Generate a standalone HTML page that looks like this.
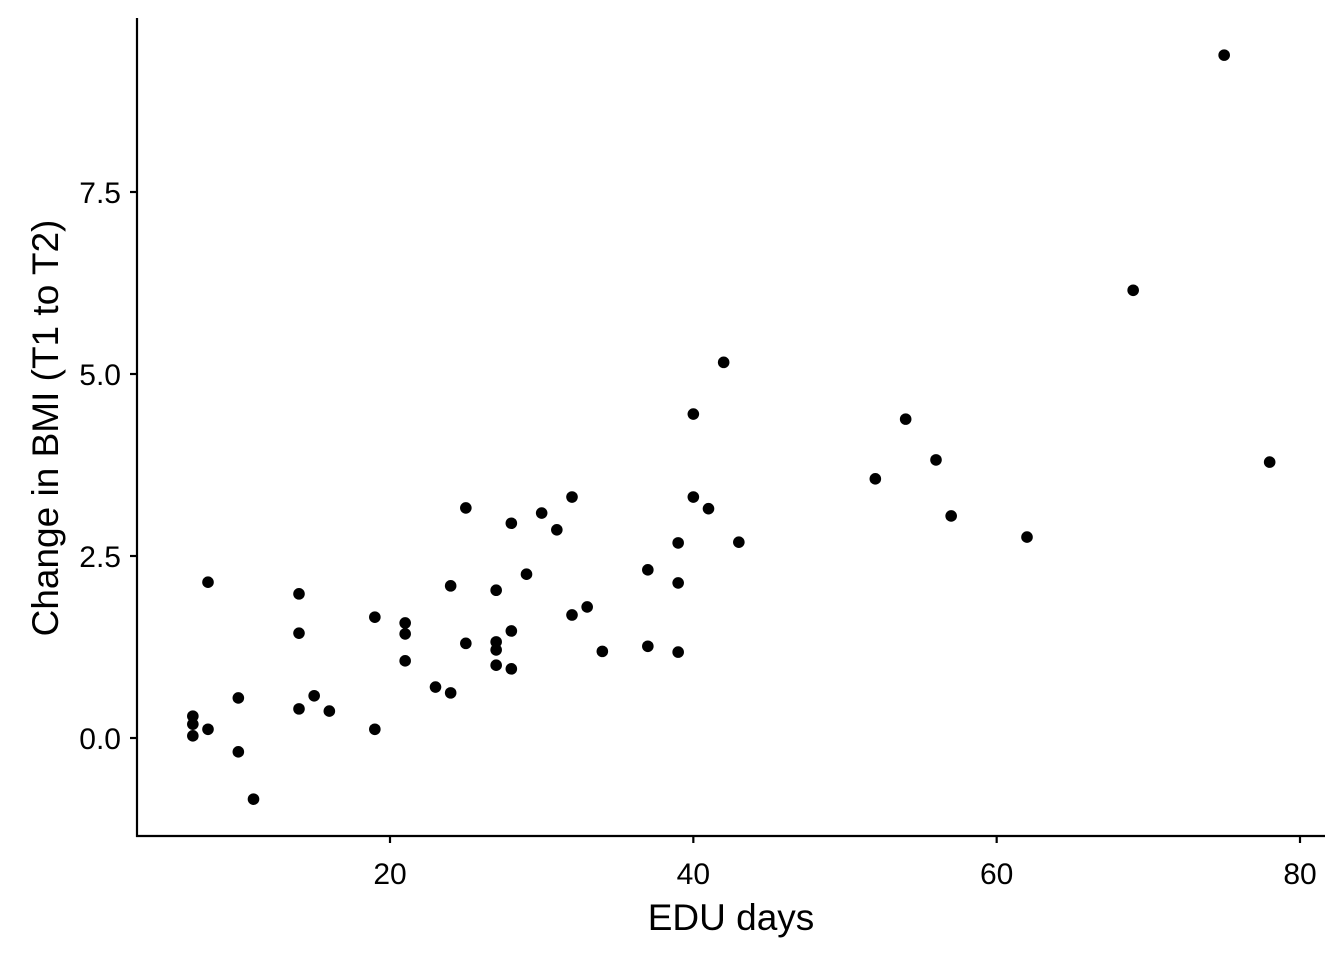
<!DOCTYPE html>
<html><head><meta charset="utf-8"><style>
html,body{margin:0;padding:0;background:#fff;}
svg text{font-family:"Liberation Sans",Arial,sans-serif;}
.tick{font-size:30px;}
.title{font-size:37px;}
</style></head><body>
<svg width="1344" height="960" viewBox="0 0 1344 960" xmlns="http://www.w3.org/2000/svg">
<g id="plot"></g>
<text class="title" x="731" y="930" text-anchor="middle" fill="#000">EDU days</text>
<text class="title" transform="translate(58,428) rotate(-90)" text-anchor="middle" fill="#000">Change in BMI (T1 to T2)</text>
</svg>
<script>
const xs=[7,7,7,8,8,10,10,11,14,14,14,15,16,19,19,21,21,21,23,24,24,25,25,27,27,27,27,28,28,28,29,30,31,32,32,33,34,37,37,39,39,39,40,40,41,42,43,52,54,56,57,62,69,75,78];
const ys=[0.30,0.19,0.03,0.12,2.14,0.55,-0.19,-0.84,1.98,1.44,0.40,0.58,0.37,1.66,0.12,1.58,1.43,1.06,0.70,2.09,0.62,3.16,1.30,2.03,1.32,1.21,1.00,2.95,1.47,0.95,2.25,3.09,2.86,3.31,1.69,1.80,1.19,2.31,1.26,2.68,2.13,1.18,4.45,3.31,3.15,5.16,2.69,3.56,4.38,3.82,3.05,2.76,6.15,9.38,3.79];
const xTicks=[20,40,60,80];
const yTicks=[0,2.5,5,7.5];
const yTickLabels=["0.0","2.5","5.0","7.5"];
const sx=v=>390+(v-20)*(1300-390)/60;
const sy=v=>738-v*(738-192)/7.5;
const NS="http://www.w3.org/2000/svg";
const g=document.getElementById('plot');
function mk(t,a){const e=document.createElementNS(NS,t);for(const k in a)e.setAttribute(k,a[k]);g.appendChild(e);return e;}
let e=mk('line',{x1:137,y1:18,x2:137,y2:837,stroke:'#000','stroke-width':2.2});


e=mk('line',{x1:136,y1:836,x2:1325,y2:836,stroke:'#000','stroke-width':2.2});


xTicks.forEach(t=>{
 let l=mk('line',{x1:sx(t),y1:836,x2:sx(t),y2:843,stroke:'#000','stroke-width':2.2});
 
 
 let tx=mk('text',{x:sx(t),y:884,class:'tick','text-anchor':'middle',fill:'#000'});
 tx.textContent=t;
 
 
});
yTicks.forEach((t,i)=>{
 let l=mk('line',{x1:130,y1:sy(t),x2:137,y2:sy(t),stroke:'#000','stroke-width':2.2});
 
 
 let tx=mk('text',{x:121,y:sy(t)+11,class:'tick','text-anchor':'end',fill:'#000'});
 tx.textContent=yTickLabels[i];
 
 
});
xs.forEach((x,i)=>{
 let c=mk('circle',{cx:sx(x),cy:sy(ys[i]),r:5.8,fill:'#000'});
 
 
});
</script>
</body></html>
